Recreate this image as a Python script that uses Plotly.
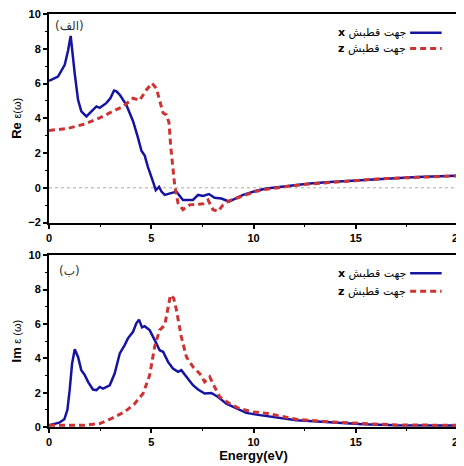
import plotly.graph_objects as go

# ---- Data: real part (top panel) ----
re_x_energy = [0, 0.44, 0.77, 0.93, 1.06, 1.15, 1.26, 1.42, 1.58, 1.83, 2.07, 2.32, 2.48, 2.8, 3.0, 3.18, 3.3, 3.46,
               3.78, 4.11, 4.35, 4.52, 4.68, 4.84, 5.09, 5.22, 5.38, 5.5, 5.66, 5.9, 6.23, 6.55, 7.04, 7.29, 7.53,
               7.82, 8.1, 8.43, 8.8, 9.49, 10.14, 10.63, 11.28, 11.93, 12.75, 13.73, 15, 16.17, 18, 20]
re_x_value = [6.15, 6.4, 7.08, 7.89, 8.74, 7.6, 6.56, 5.06, 4.4, 4.11, 4.4, 4.68, 4.6, 4.87, 5.15, 5.6, 5.55, 5.35,
              4.78, 3.83, 2.89, 2.13, 1.85, 1.19, 0.34, -0.13, 0.06, -0.22, -0.41, -0.32, -0.22, -0.7, -0.7, -0.41,
              -0.47, -0.36, -0.57, -0.62, -0.79, -0.41, -0.17, -0.04, 0.06, 0.15, 0.25, 0.34, 0.42, 0.53, 0.62, 0.7]

re_z_energy = [0, 0.85, 1.66, 2.48, 3.13, 3.62, 4.11, 4.43, 4.76, 5.04, 5.25, 5.41, 5.58, 5.74, 5.87, 5.95, 6.05,
               6.15, 6.31, 6.55, 6.88, 7.53, 7.78, 8.02, 8.27, 8.51, 8.84, 9.49, 10.14, 10.63, 11.28, 11.93, 12.75,
               13.73, 15, 16.17, 18, 20]
re_z_value = [3.3, 3.4, 3.64, 4.02, 4.4, 4.68, 5.15, 5.03, 5.63, 6.02, 5.72, 5.06, 4.3, 4.2, 3.74, 2.4, 1.2,
              0.1, -0.88, -1.26, -0.98, -0.92, -0.7, -1.26, -1.36, -0.98, -0.73, -0.47, -0.2, -0.08, 0.03, 0.12,
              0.22, 0.32, 0.41, 0.52, 0.61, 0.69]

# ---- Data: imaginary part (bottom panel) ----
im_x_energy = [0, 0.5, 0.75, 0.9, 1.01, 1.13, 1.26, 1.42, 1.58, 1.75, 1.91, 2.15, 2.32, 2.48, 2.64, 2.97, 3.21,
               3.46, 3.7, 3.86, 4.11, 4.27, 4.4, 4.55, 4.68, 4.92, 5.17, 5.41, 5.58, 5.82, 6.06, 6.31, 6.47, 6.72,
               7.04, 7.29, 7.61, 7.94, 8.27, 8.67, 9.16, 9.65, 10.14, 10.71, 12.1, 13.73, 15.36, 17, 20]
im_x_value = [0.1, 0.25, 0.45, 1.0, 2.14, 3.7, 4.52, 4.08, 3.31, 3.02, 2.63, 2.18, 2.14, 2.33, 2.24, 2.43, 3.11,
              4.28, 4.77, 5.16, 5.54, 6.03, 6.25, 5.8, 5.87, 5.64, 5.06, 4.47, 4.38, 3.79, 3.4, 3.21, 3.31, 2.92,
              2.43, 2.18, 1.95, 1.98, 1.75, 1.36, 1.07, 0.82, 0.72, 0.62, 0.39, 0.27, 0.16, 0.1, 0.08]

im_z_energy = [0, 1.0, 1.75, 2.48, 3.05, 3.7, 4.19, 4.6, 4.92, 5.17, 5.41, 5.66, 5.82, 5.94, 6.1, 6.23, 6.47,
               6.72, 7.04, 7.37, 7.61, 7.86, 8.1, 8.35, 8.84, 9.32, 9.98, 10.71, 12.1, 13.73, 15.36, 17, 20]
im_z_value = [0.1, 0.08, 0.1, 0.2, 0.49, 0.88, 1.36, 1.95, 3.0, 4.7, 5.64, 5.93, 7.0, 7.68, 7.49, 6.81, 5.25,
              4.08, 3.5, 3.11, 2.63, 2.92, 2.33, 1.75, 1.36, 1.07, 0.88, 0.78, 0.45, 0.3, 0.2, 0.12, 0.1]

legend_labels = ["<b>x</b> جهت قطبش", "<b>z</b> جهت قطبش"]
panel_labels = ["(الف)", "(ب)"]
x_ticks = [0, 5, 10, 15, 20]
y_ticks = [-2, 0, 2, 4, 6, 8, 10]
im_y_ticks = [0, 2, 4, 6, 8, 10]

BLUE = "#1414a0"
RED = "#cc3333"

fig = go.Figure()
fig.add_trace(go.Scatter(x=re_x_energy, y=re_x_value, mode="lines", line=dict(color=BLUE, width=2.5),
                         xaxis="x", yaxis="y", showlegend=False))
fig.add_trace(go.Scatter(x=re_z_energy, y=re_z_value, mode="lines",
                         line=dict(color=RED, width=3, dash="6px,4px"),
                         xaxis="x", yaxis="y", showlegend=False))
fig.add_trace(go.Scatter(x=im_x_energy, y=im_x_value, mode="lines", line=dict(color=BLUE, width=2.5),
                         xaxis="x2", yaxis="y2", showlegend=False))
fig.add_trace(go.Scatter(x=im_z_energy, y=im_z_value, mode="lines",
                         line=dict(color=RED, width=3, dash="6px,4px"),
                         xaxis="x2", yaxis="y2", showlegend=False))

tickfont = dict(family="Liberation Sans, Arial", size=11, color="black", weight="bold")
axis_common = dict(showline=True, linewidth=2, linecolor="black", mirror=True, ticks="outside",
                   ticklen=4, tickwidth=1.5, tickcolor="black", showgrid=False, zeroline=False,
                   tickfont=tickfont, automargin=False, ticklabeloverflow="allow")
minor = dict(ticks="outside", ticklen=2, tickcolor="black", tickwidth=1)
title_font = dict(family="Liberation Sans, Arial", size=13, color="black")

# page body has an 8px margin, so the figure is sized/offset to compensate
fig.update_layout(
    width=456, height=458,
    margin=dict(l=41, r=6, t=6, b=39),
    plot_bgcolor="white", paper_bgcolor="white",
    xaxis=dict(domain=[0, 1], range=[0, 20], tickvals=x_ticks, anchor="y",
               minor=dict(dtick=2.5, **minor), **axis_common),
    yaxis=dict(domain=[0.495, 1], range=[-2, 10], tickvals=y_ticks, anchor="x",
               minor=dict(dtick=1, **minor), **axis_common,
               title=dict(text="<b>Re</b> <span style='font-size:11px'>ε(ω)</span>",
                          font=title_font, standoff=4)),
    xaxis2=dict(domain=[0, 1], range=[0, 20], tickvals=x_ticks, anchor="y2",
                minor=dict(dtick=2.5, **minor), **axis_common,
                title=dict(text="<b>Energy(eV)</b>", font=title_font, standoff=1)),
    yaxis2=dict(domain=[0, 0.416], range=[0, 10], tickvals=im_y_ticks, anchor="x2",
                minor=dict(dtick=1, **minor), **axis_common,
                title=dict(text="<b>Im</b> <span style='font-size:11px'>ε (ω)</span>",
                           font=title_font, standoff=4)),
)

# dotted zero line in the real-part panel
fig.add_shape(type="line", xref="x domain", yref="y", x0=0, x1=1, y0=0, y1=0,
              line=dict(color="#aaaaaa", width=1, dash="dot"), layer="below")

# panel labels
fig.add_annotation(text=panel_labels[0], xref="x domain", yref="y domain", x=0.01, y=0.985,
                   xanchor="left", yanchor="top", showarrow=False,
                   font=dict(family="DejaVu Sans", size=12, color="#333333"))
fig.add_annotation(text=panel_labels[1], xref="x2 domain", yref="y2 domain", x=0.02, y=0.96,
                   xanchor="left", yanchor="top", showarrow=False,
                   font=dict(family="DejaVu Sans", size=12, color="#333333"))

# custom legends (text left, line sample right)
legend_rows = [("x domain", "y domain", [0.91, 0.835]), ("x2 domain", "y2 domain", [0.895, 0.79])]
for xr, yr, ys in legend_rows:
    for i, yy in enumerate(ys):
        color = BLUE if i == 0 else RED
        dash = "solid" if i == 0 else "6px,4px"
        fig.add_shape(type="line", xref=xr, yref=yr, x0=0.883, x1=0.96, y0=yy, y1=yy,
                      line=dict(color=color, width=2.5 if i == 0 else 3, dash=dash))
        fig.add_annotation(text=legend_labels[i], xref=xr, yref=yr, x=0.878, y=yy,
                           xanchor="right", yanchor="middle", showarrow=False,
                           font=dict(family="DejaVu Sans", size=11, color="black"))

fig.write_html("out.html")
